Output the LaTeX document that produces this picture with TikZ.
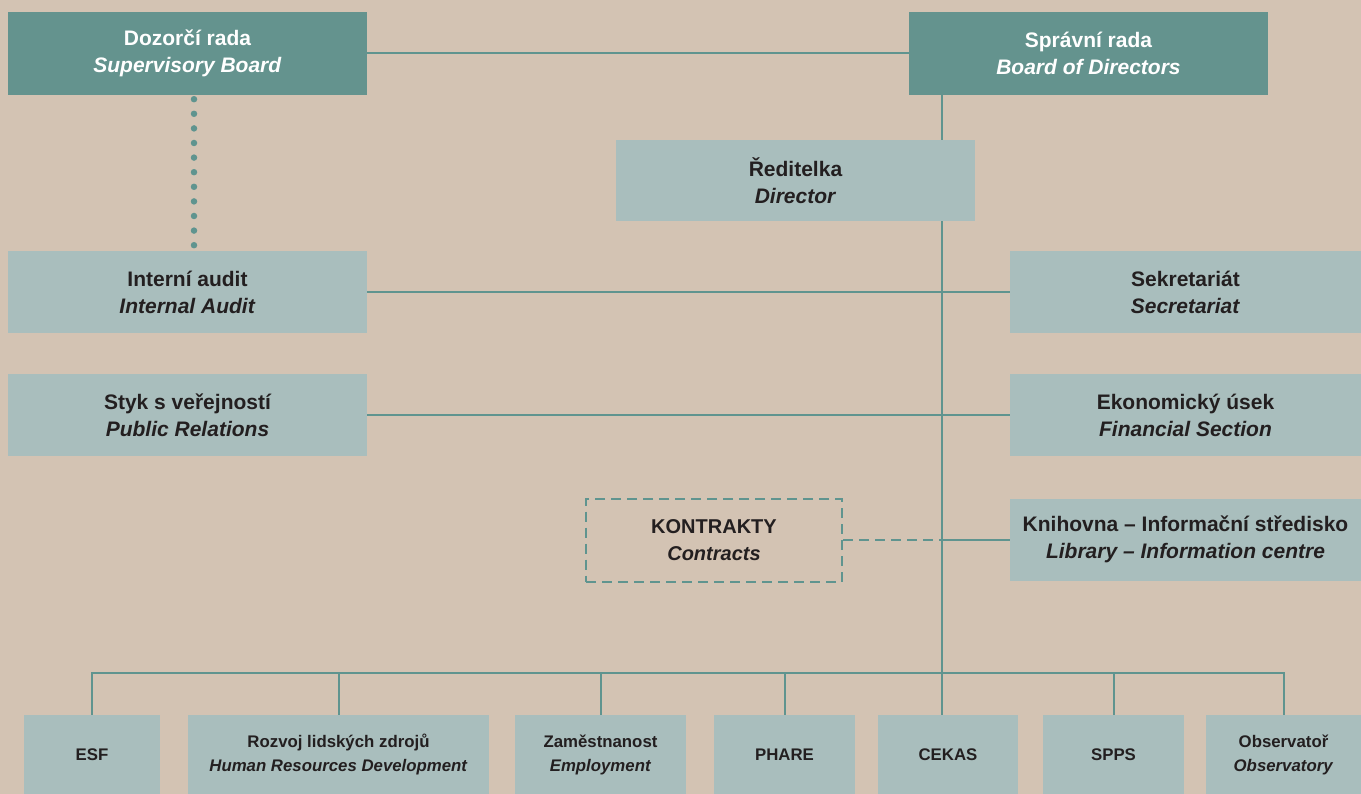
\documentclass[tikz,border=0pt]{standalone}
\usepackage{fontspec}
\setmainfont{Liberation Sans}
\usetikzlibrary{positioning}
\definecolor{paper}{HTML}{D3C3B3}
\definecolor{deepteal}{HTML}{64938E}
\definecolor{paleteal}{HTML}{A9BEBD}
\definecolor{wire}{HTML}{5F948F}
\definecolor{ink}{HTML}{231F20}
\tikzset{
  hd/.style={rectangle, fill=deepteal, text=white, align=center, inner sep=0pt,
             font=\bfseries\fontsize{21}{27}\selectfont,
             minimum width=359pt, minimum height=83pt},
  dept/.style={rectangle, fill=paleteal, text=ink, align=center, inner sep=0pt,
               font=\bfseries\fontsize{21}{27}\selectfont,
               minimum width=#1, minimum height=82pt},
  dept/.default=359pt,
  sub/.style={rectangle, fill=paleteal, text=ink, align=center, inner sep=0pt,
              font=\bfseries\fontsize{16.8}{24}\selectfont,
              minimum width=#1, minimum height=79pt},
  ctr/.style={rectangle, draw=wire, line width=2pt, dash pattern=on 10pt off 6pt,
              text=ink, align=center, inner sep=0pt,
              font=\bfseries\fontsize{20}{27}\selectfont,
              minimum width=256pt, minimum height=83pt},
  ln/.style={draw=wire, line width=2pt},
  dotln/.style={draw=wire, line width=6.5pt, line cap=round, dash pattern=on 0pt off 14.6pt},
}

\begin{document}
\begin{tikzpicture}[x=1pt,y=-1pt]
  \useasboundingbox (0,0) rectangle (1361,794);
  \fill[paper] (0,0) rectangle (1361,794);

  % boards
  \node[hd] (sb) at (187.5,53.5) {Dozorčí rada\\\textit{Supervisory Board}};
  \node[hd] (bd) at (1088.5,53.5) {Správní rada\\\textit{Board of Directors}};
  \node[dept, minimum height=81pt] (dir) at (795.5,180.5) {Ředitelka\\\textit{Director}};

  % staff units
  \node[dept] (audit) at (187.5,292) {Interní audit\\\textit{Internal Audit}};
  \node[dept] (pr) [below=41pt of audit] {Styk s veřejností\\\textit{Public Relations}};
  \node[dept=351pt] (secr) at (1185.5,292) {Sekretariát\\\textit{Secretariat}};
  \node[dept=351pt] (fin) [below=41pt of secr] {Ekonomický úsek\\\textit{Financial Section}};
  \node[dept=351pt] (lib) [below=42pt of fin] {Knihovna – Informační středisko\\\textit{Library – Information centre}};
  \node[ctr] (contr) at (714,540) {KONTRAKTY\\\textit{Contracts}};

  % programmes
  \node[sub=136pt] (esf) at (92,754.5) {ESF};
  \node[sub=301pt] (hrd) at (338.5,754.5) {Rozvoj lidských zdrojů\\\textit{Human Resources Development}};
  \node[sub=171pt] (emp) at (600.5,754.5) {Zaměstnanost\\\textit{Employment}};
  \node[sub=141pt] (phare) at (784.5,754.5) {PHARE};
  \node[sub=140pt] (cekas) at (948,754.5) {CEKAS};
  \node[sub=141pt] (spps) at (1113.5,754.5) {SPPS};
  \node[sub=155pt] (obs) at (1283.5,754.5) {Observatoř\\\textit{Observatory}};

  \coordinate (tk) at (942,673);

  \draw[ln] (sb.east) -- (bd.west);
  \draw[dotln] ([xshift=6.5pt,yshift=-4pt]sb.south) -- ([xshift=6.5pt]audit.north);
  \draw[ln] (bd.south -| tk) -- (dir.north -| tk);
  \draw[ln] (dir.south -| tk) -- (tk);
  \draw[ln] (audit.east) -- (secr.west);
  \draw[ln] (pr.east) -- (fin.west);
  \draw[ln, dash pattern=on 10pt off 6pt] (contr.east) -- (contr.east -| tk);
  \draw[ln] (contr.east -| tk) -- (contr.east -| lib.west);

  % bus to programmes
  \draw[ln] (esf.north) -- (esf.north |- tk) -- (obs.north |- tk) -- (obs.north);
  \foreach \n in {hrd,emp,phare,spps}
    \draw[ln] (\n.north) -- (\n.north |- tk);
  \draw[ln] (tk) -- (tk |- cekas.north);
\end{tikzpicture}
\end{document}
